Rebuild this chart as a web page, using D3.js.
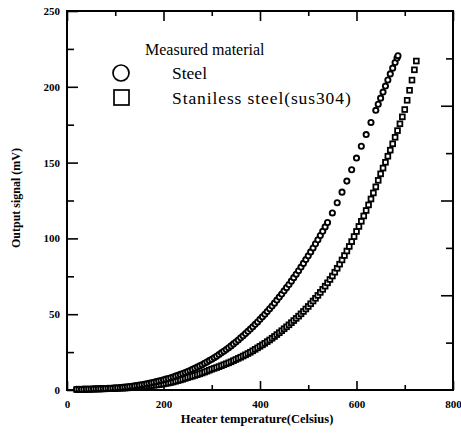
<!DOCTYPE html>
<html><head><meta charset="utf-8">
<script src="https://cdn.jsdelivr.net/npm/d3@7"></script>
<style>body{margin:0;background:#fff}svg{display:block}</style></head>
<body><svg id="c" width="461" height="433"></svg>
<script>
// Steel (circles)
const steelT=[20,25,30,35,40,45,50,55,60,65,70,75,80,85,90,95,100,105,110,115,120,125,130,135,140,145,150,155,160,165,170,175,180,185,190,195,200,205,210,215,220,225,230,235,240,245,250,255,260,265,270,275,280,285,290,295,300,305,310,315,320,325,330,335,340,345,350,355,360,365,370,375,380,385,390,395,400,405,410,415,420,425,430,435,440,445,450,455,460,465,470,475,480,485,490,495,500,505,510,515,520,525,530,535,540,550,560,570,580,590,600,610,620,630,640,645,650,655,660,665,670,675,680,684,686];
const steelV=[0.5,0.5,0.5,0.55,0.6,0.65,0.7,0.75,0.8,0.85,0.9,0.95,1.0,1.1,1.2,1.3,1.4,1.5,1.6,1.75,1.9,2.1,2.3,2.5,2.7,2.95,3.2,3.5,3.8,4.1,4.4,4.75,5.1,5.5,5.9,6.3,6.7,7.15,7.6,8.1,8.6,9.15,9.7,10.3,10.9,11.55,12.2,12.9,13.6,14.35,15.1,15.9,16.7,17.6,18.5,19.4,20.3,21.3,22.3,23.4,24.5,25.6,26.7,27.9,29.1,30.4,31.7,33.0,34.4,35.8,37.2,38.7,40.2,41.7,43.3,44.9,46.6,48.3,50.0,51.8,53.6,55.4,57.3,59.3,61.3,63.3,65.4,67.5,69.6,71.8,74.1,76.4,78.7,81.1,83.5,86.0,88.5,91.1,93.7,96.4,99.1,101.9,104.7,107.6,110.5,116.8,123.5,130.5,137.8,145.3,153.0,160.8,168.5,176.5,184.5,188.5,192.5,196.5,200.5,204.5,208.5,212.3,216.0,219.0,220.5];
// Stainless steel sus304 (squares)
const susT=[20,25,30,35,40,45,50,55,60,65,70,75,80,85,90,95,100,105,110,115,120,125,130,135,140,145,150,155,160,165,170,175,180,185,190,195,200,205,210,215,220,225,230,235,240,245,250,255,260,265,270,275,280,285,290,295,300,305,310,315,320,325,330,335,340,345,350,355,360,365,370,375,380,385,390,395,400,405,410,415,420,425,430,435,440,445,450,455,460,465,470,475,480,485,490,495,500,505,510,515,520,525,530,535,540,545,550,555,560,565,570,575,580,585,590,595,600,605,610,615,620,625,630,635,640,645,650,655,660,665,670,675,680,685,690,695,700,705,710,715,720,724];
const susV=[0.3,0.3,0.35,0.38,0.4,0.45,0.5,0.55,0.6,0.65,0.7,0.75,0.8,0.85,0.9,0.95,1.0,1.07,1.15,1.22,1.3,1.4,1.5,1.62,1.75,1.87,2.0,2.15,2.3,2.5,2.7,2.9,3.1,3.3,3.5,3.75,4.0,4.3,4.6,4.95,5.3,5.75,6.2,6.65,7.1,7.65,8.2,8.65,9.1,9.6,10.1,10.65,11.2,11.8,12.4,13.05,13.7,14.25,14.8,15.4,16.0,16.65,17.3,17.95,18.6,19.35,20.1,20.85,21.6,22.4,23.2,24.05,24.9,25.85,26.8,27.8,28.8,29.8,30.8,31.9,33.0,34.15,35.3,36.55,37.8,39.1,40.4,41.7,43.0,44.4,45.8,47.25,48.7,50.25,51.8,53.45,55.1,56.9,58.7,60.5,62.4,64.4,66.4,68.5,70.7,72.9,75.2,77.7,80.3,83.0,85.8,88.7,91.7,94.7,97.9,101.2,104.6,107.9,111.3,114.8,118.4,122.1,126.0,130.0,134.0,138.3,142.6,146.4,150.2,154.2,158.2,162.4,166.7,171.1,175.6,180.2,185.0,191.1,197.7,204.4,211.2,217.0];

const xMajor=[0,200,400,600,800];
const xMinor=[100,300,500,700];
const yMajor=[0,50,100,150,200,250];
const yMinor=[25,75,125,175,225];
const rMajor=[62.5,125,187.5];
const rMinor=[31.25,93.75,156.25,218.75];

const legendTitle="Measured material";
const seriesNames=["Steel","Staniless steel(sus304)"];
const xTitle="Heater temperature(Celsius)";
const yTitle="Output signal (mV)";

const L=67,R=453,T=11,B=390;
const svg=d3.select("#c");
const x=d3.scaleLinear().domain([0,800]).range([L,R]);
const y=d3.scaleLinear().domain([0,250]).range([B,T]);
const serif="'Liberation Serif','Times New Roman',serif";

function styleAxis(g){
  g.attr("font-family",null).attr("font-size",null);
  g.select(".domain").remove();
  g.selectAll("line").attr("stroke","#000").attr("stroke-width",1.6);
  g.selectAll("text").style("font-family",serif).style("font-weight","bold").style("font-size","11px").attr("fill","#000");
}
// bottom
svg.append("g").attr("transform",`translate(0,${B})`).call(d3.axisBottom(x).tickValues(xMajor).tickSizeInner(-9).tickSizeOuter(0).tickPadding(10).tickFormat(d3.format("d"))).call(styleAxis);
svg.append("g").attr("transform",`translate(0,${B})`).call(d3.axisBottom(x).tickValues(xMinor).tickSizeInner(-5).tickSizeOuter(0).tickFormat("")).call(styleAxis);
// top
svg.append("g").attr("transform",`translate(0,${T})`).call(d3.axisTop(x).tickValues(xMajor).tickSizeInner(-10).tickSizeOuter(0).tickFormat("")).call(styleAxis);
svg.append("g").attr("transform",`translate(0,${T})`).call(d3.axisTop(x).tickValues(xMinor).tickSizeInner(-5).tickSizeOuter(0).tickFormat("")).call(styleAxis);
// left
svg.append("g").attr("transform",`translate(${L},0)`).call(d3.axisLeft(y).tickValues(yMajor).tickSizeInner(-11).tickSizeOuter(0).tickPadding(7).tickFormat(d3.format("d"))).call(styleAxis);
svg.append("g").attr("transform",`translate(${L},0)`).call(d3.axisLeft(y).tickValues(yMinor).tickSizeInner(-7).tickSizeOuter(0).tickFormat("")).call(styleAxis);
// right
svg.append("g").attr("transform",`translate(${R},0)`).call(d3.axisRight(y).tickValues(rMajor).tickSizeInner(-12).tickSizeOuter(0).tickFormat("")).call(styleAxis);
svg.append("g").attr("transform",`translate(${R},0)`).call(d3.axisRight(y).tickValues(rMinor).tickSizeInner(-7).tickSizeOuter(0).tickFormat("")).call(styleAxis);

// frame
svg.append("rect").attr("x",L).attr("y",T).attr("width",R-L).attr("height",B-T)
  .attr("fill","none").attr("stroke","#000").attr("stroke-width",2);

// data
const steel=steelT.map((t,i)=>({t,v:steelV[i]}));
const sus=susT.map((t,i)=>({t,v:susV[i]}));
svg.append("g").selectAll("rect").data(sus).join("rect")
  .attr("x",d=>x(d.t)-2.4).attr("y",d=>y(d.v)-2.4).attr("width",4.8).attr("height",4.8)
  .attr("fill","#fff").attr("stroke","#000").attr("stroke-width",1.8);
svg.append("g").selectAll("circle").data(steel).join("circle")
  .attr("cx",d=>x(d.t)).attr("cy",d=>y(d.v)).attr("r",2.6)
  .attr("fill","#fff").attr("stroke","#000").attr("stroke-width",1.9);

// legend
const lg=svg.append("g").style("font-family",serif).attr("fill","#000");
lg.append("text").attr("x",145).attr("y",55).style("font-size","16px").text(legendTitle);
lg.append("circle").attr("cx",121).attr("cy",73).attr("r",8).attr("fill","none").attr("stroke","#000").attr("stroke-width",1.7);
lg.append("rect").attr("x",114).attr("y",90).attr("width",15).attr("height",15).attr("fill","none").attr("stroke","#000").attr("stroke-width",1.7);
lg.append("text").attr("x",172).attr("y",79).style("font-size","17.5px").text(seriesNames[0]);
lg.append("text").attr("x",172).attr("y",104).style("font-size","17.5px").style("letter-spacing","0.9px").text(seriesNames[1]);

// titles
svg.append("text").attr("x",257).attr("y",423).attr("text-anchor","middle").text(xTitle)
  .style("font-family",serif).style("font-weight","bold").style("font-size","12.5px").attr("fill","#000");
svg.append("text").attr("transform","translate(20,198) rotate(-90)").attr("text-anchor","middle").text(yTitle)
  .style("font-family",serif).style("font-weight","bold").style("font-size","12px").attr("fill","#000");
</script></body></html>
